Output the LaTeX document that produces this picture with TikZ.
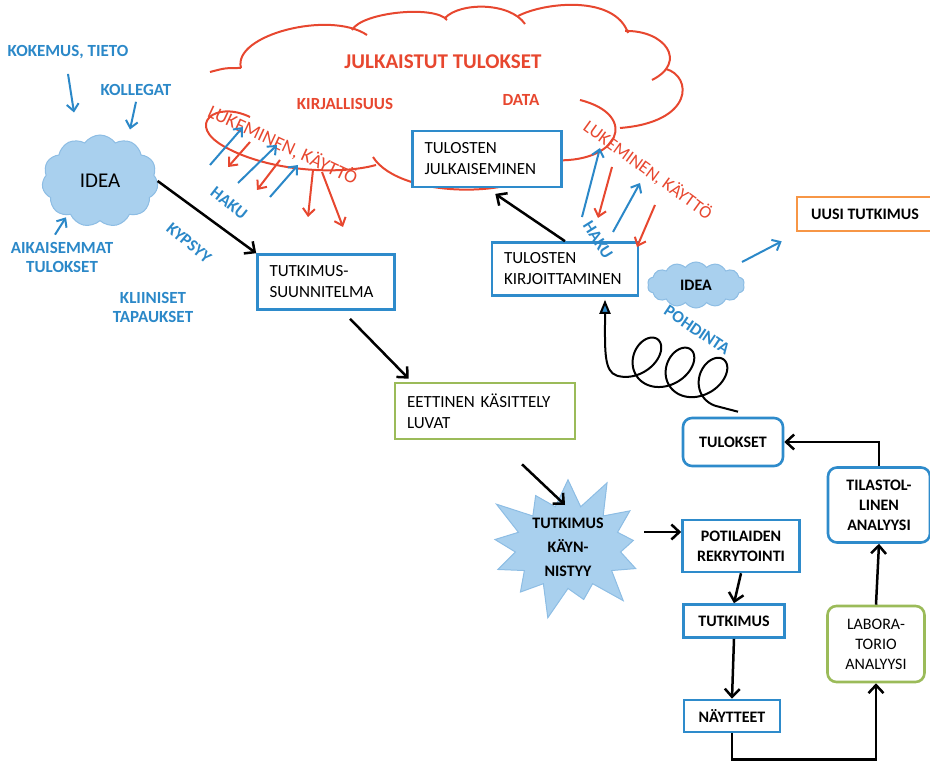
\documentclass[tikz,border=0pt]{standalone}
\usepackage{fontspec}
\setmainfont{Carlito}
\usetikzlibrary{arrows.meta,shapes.symbols}
\definecolor{boxblue}{HTML}{2E8BCB}
\definecolor{txtblue}{HTML}{2B88C8}
\definecolor{lred}{HTML}{E7472F}
\definecolor{cloudfill}{HTML}{A9D0EE}
\definecolor{cloudline}{HTML}{8DBDE4}
\definecolor{lgreen}{HTML}{9BBB59}
\definecolor{lorange}{HTML}{F79646}
\begin{document}
\begin{tikzpicture}[x=1pt,y=-1pt,
    box/.style={draw=boxblue, line width=2.6pt, fill=white, inner sep=0pt,
      font=\fontsize{17}{21}\selectfont, align=left},
    bbox/.style={box, font=\fontsize{16}{20}\selectfont\bfseries, align=center},
    rbox/.style={bbox, rounded corners=9pt},
    puff/.style={cloud, cloud puffs=11, cloud puff arc=110, cloud ignores aspect,
      draw=cloudline, fill=cloudfill, line width=1pt, inner sep=0pt},
    lab/.style={text=txtblue, font=\fontsize{17}{19}\selectfont\bfseries, align=center, inner sep=0pt},
    redlab/.style={text=lred, font=\fontsize{17}{18}\selectfont\bfseries, inner sep=0pt},
    readlab/.style={text=lred, font=\fontsize{18}{18}\selectfont, inner sep=0pt},
    flow/.style={line width=2.5pt, -{Straight Barb[length=8pt,width=15pt]}},
    barrow/.style={draw=txtblue, line width=2pt, -{Straight Barb[length=7pt,width=12pt]}},
    rarrow/.style={barrow, draw=lred},
    outline/.style={draw=lred, line width=2pt}]
  \useasboundingbox (0,0) rectangle (930,762);
  \def\sqc{5.5}
  \def\sqa{20}
  \def\sqb{24}

  % julkaistut tulokset, the big red cloud
  \draw[outline] (210,72) .. controls (225,68) .. (241,68);
  \draw[outline] (241,68) .. controls (232,35) and (330,10) .. (367,35);
  \draw[outline] (352,30) .. controls (362,12) and (435,5) .. (447,20);
  \draw[outline] (445,18) .. controls (460,2) and (510,2) .. (525,24);
  \draw[outline] (518,16) .. controls (545,2) and (615,-5) .. (628,33);
  \draw[outline] (625,31) .. controls (665,30) and (688,62) .. (652,80);
  \draw[outline] (666,69) .. controls (692,76) and (695,122) .. (620,128);
  \draw[outline] (580,100) .. controls (640,115) and (620,165) .. (550,160);
  \draw[outline] (552,160) .. controls (530,200) and (400,200) .. (373,157);
  \draw[outline] (250,117) .. controls (215,100) and (185,125) .. (225,147)
    .. controls (270,172) and (340,175) .. (376,165);

  \node[redlab, font=\fontsize{21}{21}\selectfont\bfseries] (julkt) at (443,62) {JULKAISTUT TULOKSET};
  \node[redlab] (kirjal) at (345,104) {KIRJALLISUUS};
  \node[redlab] (data) at (521,100) {DATA};
  \node[readlab, font=\fontsize{19}{19}\selectfont, rotate=-25] (read1) at (283,145) {LUKEMINEN, KÄYTTÖ};
  \node[readlab, rotate=-36] (read2) at (648,170) {LUKEMINEN, KÄYTTÖ};

  % where the idea comes from
  \node[lab] (kok) at (68,52) {KOKEMUS, TIETO};
  \node[lab] (kol) at (136,90) {KOLLEGAT};
  \node[puff, minimum width=116pt, minimum height=92pt,
    font=\fontsize{21}{21}\selectfont] (idea) at (100,181) {IDEA};
  \node[lab] (aik) at (62,257) {AIKAISEMMAT\\TULOKSET};
  \node[lab] (kli) at (153,307) {KLIINISET\\TAPAUKSET};
  \node[lab, rotate=-40] (kyp) at (189,243) {KYPSYY};
  \node[lab, rotate=-38] (haku1) at (229,203) {HAKU};
  \path ([yshift=-15pt]kok.south) edge[barrow] ([xshift=-26pt,yshift=22pt]idea.north);
  \path ([yshift=-6pt]kol.south) edge[barrow] ([xshift=30pt,yshift=5pt]idea.north);
  \path ([xshift=-7pt,yshift=7pt]aik.north) edge[barrow] ([xshift=-34pt,yshift=4pt]idea.south);

  % boxes
  \node[box, minimum width=137pt, minimum height=55pt, text width=113pt] (plan) at (326,282) {TUTKIMUS-\\SUUNNITELMA};
  \node[box, draw=lgreen, minimum width=180pt, minimum height=56pt, text width=156pt] (etic) at (485,411) {EETTINEN KÄSITTELY\\LUVAT};
  \node[box, minimum width=149pt, minimum height=56pt, text width=125pt] (julk) at (487,159) {TULOSTEN\\JULKAISEMINEN};
  \node[box, minimum width=146pt, minimum height=53pt, text width=122pt] (kirj) at (565,269) {TULOSTEN\\KIRJOITTAMINEN};
  \node[bbox, draw=lorange, minimum width=136pt, minimum height=34pt] (uusi) at (865,214) {UUSI TUTKIMUS};
  \node[puff, cloud puffs=14, minimum width=97pt, minimum height=46pt,
    font=\fontsize{16}{16}\selectfont\bfseries] (idea2) at (696,285) {IDEA};
  \node[starburst, starburst points=13, starburst point height=36pt, draw=cloudline,
    fill=cloudfill, line width=1pt, minimum width=178pt, minimum height=124pt,
    align=center, font=\fontsize{16}{24}\selectfont\bfseries, inner sep=0pt] (start) at (568,547) {TUTKIMUS\\KÄYN-\\NISTYY};
  \node[bbox, minimum width=117pt, minimum height=52pt] (potil) at (741,546) {POTILAIDEN\\REKRYTOINTI};
  \node[bbox, minimum width=101pt, minimum height=33pt] (tutk) at (734,621) {TUTKIMUS};
  \node[bbox, minimum width=96pt, minimum height=32pt] (nayt) at (732,716) {NÄYTTEET};
  \node[rbox, draw=lgreen, minimum width=97pt, minimum height=76pt,
    font=\fontsize{16}{20}\selectfont] (labra) at (876,644) {LABORA-\\TORIO\\ANALYYSI};
  \node[rbox, minimum width=102pt, minimum height=75pt] (tilas) at (879,505) {TILASTOL-\\LINEN\\ANALYYSI};
  \node[rbox, minimum width=100pt, minimum height=48pt] (tulok) at (733,442) {TULOKSET};
  \node[lab, rotate=-58] (haku2) at (598,240) {HAKU};
  \node[lab, rotate=-34] (pohd) at (697,330) {POHDINTA};

  % haku and lukeminen
  \draw[barrow] (210,165) -- (243,127);
  \draw[barrow] (238,183) -- (277,145);
  \draw[barrow] (270,197) -- (298,165);
  \draw[rarrow] (250,142) -- (228,167);
  \draw[rarrow] (280,160) -- (257,190);
  \draw[rarrow] (313,170) -- (308,217);
  \draw[rarrow] (322,172) -- (343,227);
  \draw[barrow] (582,217) -- (600,148);
  \draw[barrow] (613,232) -- (640,183);
  \draw[rarrow] (612,167) -- (598,218);
  \draw[rarrow] (655,205) -- (637,247);

  % the flow
  \path (idea.east) edge[flow] (plan.north west);
  \path ([xshift=24pt,yshift=-8pt]plan.south) edge[flow] ([xshift=15pt,yshift=3pt]etic.north west);
  \path ([xshift=37pt,yshift=-24pt]etic.south) edge[flow] ([xshift=-3pt,yshift=42pt]start.center);
  \path ([xshift=-37pt,yshift=14pt]potil.west) edge[flow] ([yshift=14pt]potil.west);
  \path (potil.south) edge[flow] (tutk.north);
  \path (tutk.south) edge[flow] (nayt.north);
  \draw[flow] (nayt.south) -- ++(0,26) -| (labra.south);
  \path (labra.north) edge[flow] (tilas.south);
  \draw[flow] (tilas.north) |- (tulok.east);
  % pohdinta, a tangled line
  \draw[line width=2pt, -{Triangle[fill=boxblue, length=14pt, width=11pt]}]
    ([xshift=5pt,yshift=5pt]tulok.north)
    -- plot[domain=pi:7*pi, samples=240, smooth, variable=\t]
      ({716 - 0.956*(\sqc*(\t-pi) - \sqa*sin(\t r)) + 0.45*\sqb*(1+cos(\t r))},
       {406 - 0.293*(\sqc*(\t-pi) - \sqa*sin(\t r)) - 0.89*\sqb*(1+cos(\t r))})
    .. controls (604,372) and (605,350) .. ([xshift=40pt,yshift=-25pt]kirj.south)
    -- ([xshift=40pt,yshift=-3pt]kirj.south);
  \path (kirj.north) edge[flow, shorten >=10pt] (julk.south);
  \path ([xshift=46pt,yshift=23pt]idea2.center) edge[barrow] ([xshift=-14pt,yshift=-9pt]uusi.south west);
\end{tikzpicture}
\end{document}
